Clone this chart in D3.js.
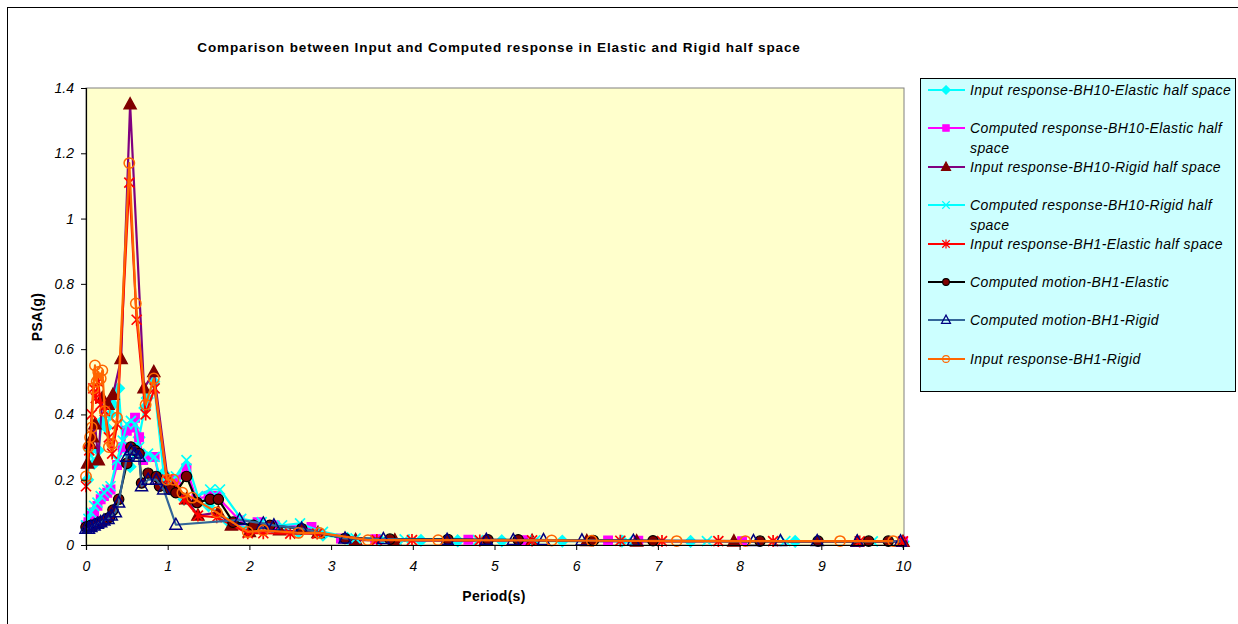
<!DOCTYPE html>
<html><head><meta charset="utf-8">
<script src="https://cdn.jsdelivr.net/npm/d3@7"></script>
<style>
body{margin:0;background:#fff;}
svg{display:block;font-family:"Liberation Sans",Arial,sans-serif;}
</style></head>
<body><svg id="c" width="1238" height="624"></svg>
<script>
// ---------- data ----------
const xTicks = [0,1,2,3,4,5,6,7,8,9,10];
const yTicks = [0,0.2,0.4,0.6,0.8,1,1.2,1.4];
const seriesNames = [
  "Input response-BH10-Elastic half space",
  "Computed response-BH10-Elastic half space",
  "Input response-BH10-Rigid half space",
  "Computed response-BH10-Rigid half space",
  "Input response-BH1-Elastic half space",
  "Computed motion-BH1-Elastic",
  "Computed motion-BH1-Rigid",
  "Input response-BH1-Rigid"
];
// Input response BH10 Elastic
const inBH10ElT = [0.02,0.05,0.1,0.15,0.2,0.25,0.3,0.33,0.4,0.45,0.54,0.65,0.72,0.75,0.83,0.95,1.05,1.2,1.5,1.75,2.0,2.3,2.6,2.9,3.2,3.6,4.1,4.55,5.09,5.83,6.56,7.4,8.68,10];
const inBH10ElV = [0.20,0.29,0.25,0.29,0.38,0.36,0.40,0.43,0.48,0.30,0.24,0.33,0.42,0.45,0.50,0.22,0.18,0.14,0.12,0.07,0.05,0.05,0.04,0.03,0.02,0.015,0.014,0.013,0.013,0.012,0.012,0.011,0.011,0.01];
// Computed response BH10 Elastic
const coBH10ElT = [0,0.03,0.06,0.1,0.14,0.18,0.22,0.26,0.3,0.38,0.45,0.5,0.55,0.6,0.65,0.7,0.74,0.8,0.84,0.9,1.0,1.1,1.23,1.35,1.5,1.6,1.88,2.1,2.31,2.76,3.12,3.54,4.68,5.35,6.39,6.76,8.03,10];
const coBH10ElV = [0.06,0.07,0.09,0.10,0.12,0.14,0.15,0.16,0.17,0.245,0.30,0.35,0.36,0.39,0.33,0.26,0.27,0.27,0.27,0.20,0.18,0.20,0.235,0.14,0.15,0.15,0.075,0.07,0.06,0.055,0.02,0.018,0.016,0.015,0.014,0.013,0.012,0.011];
// Input response BH10 Rigid
const inBH10RiT = [0.02,0.05,0.08,0.11,0.15,0.2,0.27,0.33,0.43,0.54,0.71,0.83,1.0,1.1,1.23,1.37,1.62,1.78,2.0,2.37,2.84,3.3,3.78,5.46,6.13,6.74,7.93,9.44,10];
const inBH10RiV = [0.25,0.31,0.33,0.37,0.26,0.45,0.43,0.46,0.57,1.35,0.48,0.53,0.20,0.17,0.14,0.09,0.10,0.06,0.04,0.045,0.037,0.015,0.014,0.013,0.012,0.011,0.011,0.01,0.01];
// Computed response BH10 Rigid
const coBH10RiT = [0,0.03,0.06,0.1,0.14,0.18,0.22,0.26,0.3,0.38,0.45,0.5,0.55,0.6,0.65,0.7,0.76,0.84,0.9,1.0,1.1,1.23,1.37,1.52,1.64,1.9,2.15,2.4,2.62,2.9,3.3,3.9,4.8,5.5,6.63,7.6,8.56,9.63];
const coBH10RiV = [0.06,0.08,0.10,0.12,0.13,0.15,0.16,0.17,0.18,0.26,0.32,0.37,0.38,0.37,0.30,0.27,0.28,0.27,0.21,0.19,0.21,0.26,0.15,0.17,0.17,0.08,0.07,0.06,0.066,0.04,0.02,0.017,0.015,0.014,0.013,0.012,0.012,0.011];
// Input response BH1 Elastic
const inBH1ElT = [0,0.04,0.07,0.09,0.12,0.15,0.18,0.23,0.28,0.32,0.38,0.53,0.62,0.73,0.84,0.99,1.1,1.2,1.37,1.6,1.98,2.17,2.5,2.83,3.56,3.99,4.82,5.46,6.54,7.05,7.74,8.41,9.47,10];
const inBH1ElV = [0.18,0.29,0.40,0.48,0.45,0.50,0.43,0.41,0.33,0.28,0.37,1.11,0.69,0.40,0.48,0.20,0.17,0.14,0.09,0.085,0.036,0.036,0.035,0.035,0.015,0.015,0.014,0.014,0.013,0.012,0.012,0.012,0.011,0.011];
// Computed motion BH1 Elastic
const coBH1ElT = [0,0.03,0.06,0.09,0.13,0.17,0.2,0.25,0.29,0.33,0.4,0.5,0.55,0.6,0.65,0.68,0.76,0.86,0.9,1.03,1.1,1.23,1.36,1.52,1.62,1.8,2.05,2.25,2.64,3.17,3.72,4.43,4.92,5.29,6.21,6.94,8.25,8.96,9.58,9.82];
const coBH1ElV = [0.055,0.055,0.06,0.06,0.065,0.07,0.07,0.08,0.085,0.107,0.14,0.25,0.30,0.29,0.28,0.19,0.22,0.21,0.18,0.17,0.16,0.21,0.13,0.14,0.14,0.07,0.06,0.06,0.05,0.02,0.018,0.017,0.016,0.016,0.014,0.013,0.012,0.012,0.012,0.012];
// Computed motion BH1 Rigid
const coBH1RiT = [0,0.03,0.06,0.1,0.14,0.18,0.22,0.27,0.31,0.36,0.4,0.5,0.55,0.6,0.65,0.68,0.76,0.86,0.95,1.1,1.88,2.17,2.3,2.64,3.17,3.64,4.42,4.9,5.23,5.6,6.07,6.7,8.17,8.5,8.95,9.44,9.97];
const coBH1RiV = [0.05,0.05,0.055,0.06,0.065,0.07,0.075,0.08,0.09,0.10,0.13,0.27,0.29,0.28,0.27,0.18,0.20,0.20,0.17,0.062,0.077,0.066,0.06,0.05,0.02,0.018,0.016,0.016,0.015,0.015,0.014,0.013,0.012,0.012,0.012,0.011,0.011];
// Input response BH1 Rigid
const inBH1RiT = [0,0.03,0.05,0.07,0.09,0.11,0.13,0.15,0.18,0.2,0.23,0.28,0.32,0.38,0.53,0.61,0.73,0.83,0.99,1.07,1.18,1.3,1.6,1.98,2.17,2.6,2.86,3.45,4.31,5.7,6.19,7.23,8.07,9.23,9.88];
const inBH1RiV = [0.21,0.30,0.33,0.36,0.48,0.55,0.50,0.53,0.51,0.535,0.41,0.30,0.31,0.39,1.17,0.74,0.43,0.51,0.20,0.20,0.16,0.145,0.10,0.04,0.045,0.037,0.037,0.015,0.015,0.014,0.013,0.012,0.012,0.012,0.012];

// ---------- styling ----------
const styles = [
  {T:inBH10ElT, V:inBH10ElV, line:"#00FFFF", marker:"diamond", fill:"#00FFFF", stroke:"#00FFFF"},
  {T:coBH10ElT, V:coBH10ElV, line:"#FF00FF", marker:"square", fill:"#FF00FF", stroke:"#FF00FF"},
  {T:inBH10RiT, V:inBH10RiV, line:"#800080", marker:"triangle", fill:"#800000", stroke:"#800000"},
  {T:coBH10RiT, V:coBH10RiV, line:"#00FFFF", marker:"x", fill:"none", stroke:"#00FFFF"},
  {T:inBH1ElT, V:inBH1ElV, line:"#FF0000", marker:"star", fill:"none", stroke:"#FF0000"},
  {T:coBH1ElT, V:coBH1ElV, line:"#000000", marker:"circle", fill:"#800000", stroke:"#000000"},
  {T:coBH1RiT, V:coBH1RiV, line:"#336699", marker:"triangleOpen", fill:"none", stroke:"#000080"},
  {T:inBH1RiT, V:inBH1RiV, line:"#FF6600", marker:"circleOpen", fill:"none", stroke:"#FF6600"}
];

const svg = d3.select("#c");
svg.append("rect").attr("x",7.5).attr("y",7.5).attr("width",1240).attr("height",625)
  .attr("fill","#fff").attr("stroke","#000").attr("stroke-width",1);

const L=86, R=903, T=88, B=545;
const x = d3.scaleLinear().domain([0,10]).range([L,R]);
const y = d3.scaleLinear().domain([0,1.4]).range([B,T]);

svg.append("rect").attr("x",L).attr("y",T).attr("width",R+1-L).attr("height",B-T)
  .attr("fill","#FFFFCC").attr("stroke","#808080").attr("stroke-width",1);

// title
svg.append("text").attr("x",499).attr("y",52).attr("text-anchor","middle")
  .attr("font-weight","bold").attr("font-size","13.5px").attr("letter-spacing","0.9px").attr("fill","#000")
  .text("Comparison between Input and Computed response in Elastic and Rigid half space");

// marker shapes
function markerPath(kind){
  switch(kind){
    case "diamond": return d3.symbol(d3.symbolDiamond2 || d3.symbolDiamond, 80)();
    case "square": return d3.symbol(d3.symbolSquare, 70)();
    case "triangle": case "triangleOpen": return "M0,-6.5L6,4.5L-6,4.5Z";
    case "x": return "M-5,-5L5,5M-5,5L5,-5";
    case "star": return "M-5,-5L5,5M-5,5L5,-5M0,-6L0,6";
    case "circle": case "circleOpen": return d3.symbol(d3.symbolCircle, 85)();
  }
}

const plot = svg.append("g");
const lineGen = d3.line().x(d=>x(d[0])).y(d=>y(d[1]));
styles.forEach(s=>{
  const pts = s.T.map((t,i)=>[t,s.V[i]]);
  const g = plot.append("g");
  g.append("path").attr("d",lineGen(pts)).attr("fill","none")
    .attr("stroke",s.line).attr("stroke-width",2.2).attr("stroke-linejoin","round");
  g.selectAll("path.m").data(pts).join("path").attr("class","m")
    .attr("transform",d=>`translate(${x(d[0])},${y(d[1])})`)
    .attr("d",markerPath(s.marker))
    .attr("fill",s.fill).attr("stroke",s.stroke)
    .attr("stroke-width", s.marker==="circle"?1.2:(s.marker==="x"||s.marker==="star"?1.7:1.5));
});

// axes
const yAxis = d3.axisLeft(y).tickValues(yTicks).tickSize(5).tickFormat(d=>d3.format("")(d));
const gy = svg.append("g").attr("transform",`translate(${L},0)`).call(yAxis);
const xAxis = d3.axisBottom(x).tickValues(xTicks).tickSize(5).tickFormat(d=>d);
const gx = svg.append("g").attr("transform",`translate(0,${B})`).call(xAxis);
[gx,gy].forEach(g=>{
  g.select(".domain").attr("stroke","#000").attr("stroke-width",1.2);
  g.selectAll(".tick line").attr("stroke","#000");
  g.selectAll("text").attr("font-family","Liberation Sans, Arial, sans-serif")
    .attr("font-size","14px").attr("font-style","italic").attr("fill","#000");
});
gy.selectAll("text").attr("x",-12);
gx.selectAll("text").attr("y",16);

svg.append("text").attr("x",494).attr("y",601).attr("text-anchor","middle")
  .attr("font-weight","bold").attr("font-size","14px").attr("letter-spacing","0.3px").text("Period(s)");
svg.append("text").attr("transform","translate(42,317) rotate(-90)").attr("text-anchor","middle")
  .attr("font-weight","bold").attr("font-size","14px").attr("letter-spacing","0.3px").text("PSA(g)");

// legend
const lg = svg.append("g");
lg.append("rect").attr("x",920.5).attr("y",78.5).attr("width",315).attr("height",313)
  .attr("fill","#CCFFFF").attr("stroke","#000").attr("stroke-width",1);
const legendLines = [
  ["Input response-BH10-Elastic half space"],
  ["Computed response-BH10-Elastic half","space"],
  ["Input response-BH10-Rigid half space"],
  ["Computed response-BH10-Rigid half","space"],
  ["Input response-BH1-Elastic half space"],
  ["Computed motion-BH1-Elastic"],
  ["Computed motion-BH1-Rigid"],
  ["Input response-BH1-Rigid"]
];
const legendY = [90,128,167,205,244,282,320,359];
styles.forEach((s,i)=>{
  const yy = legendY[i];
  lg.append("line").attr("x1",928).attr("x2",965).attr("y1",yy).attr("y2",yy)
    .attr("stroke",s.line).attr("stroke-width",1.8);
  const sc = (s.marker==="circle"||s.marker==="circleOpen")?0.65:0.75;
  lg.append("path").attr("transform",`translate(946,${yy}) scale(${sc})`).attr("d",markerPath(s.marker))
    .attr("fill",s.fill).attr("stroke",s.stroke).attr("stroke-width",1.6);
  const t = lg.append("text").attr("x",970).attr("y",yy+5).attr("font-size","14px")
    .attr("letter-spacing","0.4px").attr("font-style","italic").attr("fill","#000");
  legendLines[i].forEach((ln,j)=>{
    t.append("tspan").attr("x",970).attr("dy", j===0?0:20).text(ln);
  });
});
</script></body></html>
